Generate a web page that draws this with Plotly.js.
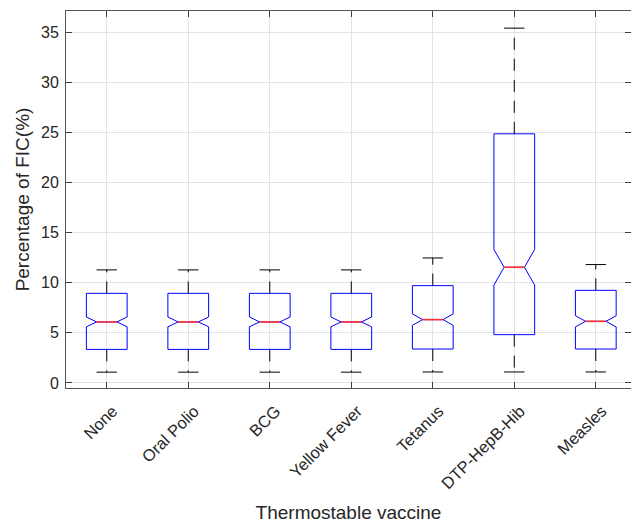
<!DOCTYPE html>
<html>
<head>
<meta charset="utf-8">
<script src="https://cdn.plot.ly/plotly-3.0.1.min.js"></script>
<style>html,body{margin:0;padding:0;background:#fff;}#chart{width:631px;height:523px;}</style>
</head>
<body>
<div id="chart"></div>
<script>
// Data
const categories = ["None", "Oral Polio", "BCG", "Yellow Fever", "Tetanus", "DTP-HepB-Hib", "Measles"];
const lowerWhisker = [1.08, 1.08, 1.08, 1.08, 1.10, 1.10, 1.10];
const q1Values     = [3.35, 3.35, 3.35, 3.35, 3.39, 4.82, 3.39];
const medianValues = [6.09, 6.09, 6.09, 6.09, 6.32, 11.54, 6.15];
const q3Values     = [8.94, 8.94, 8.94, 8.94, 9.71, 24.85, 9.24];
const upperWhisker = [11.28, 11.28, 11.28, 11.28, 12.47, 35.39, 11.81];
const notchHalfSpan = [0.49, 0.49, 0.49, 0.49, 0.57, 1.78, 0.56];

const positions = categories.map((c, i) => i + 1);
const BOX_W = 0.5;       // box width (data units)
const CAP_HALF = 0.125;  // half width of whisker caps and median line

const wx = [], wy = [];
const cx = [], cy = [];
const mx = [], my = [];
positions.forEach((p, i) => {
  wx.push(p, p, null, p, p, null);
  wy.push(q3Values[i], upperWhisker[i], null, q1Values[i], lowerWhisker[i], null);
  cx.push(p - CAP_HALF, p + CAP_HALF, null, p - CAP_HALF, p + CAP_HALF, null);
  cy.push(upperWhisker[i], upperWhisker[i], null, lowerWhisker[i], lowerWhisker[i], null);
  mx.push(p - CAP_HALF, p + CAP_HALF, null);
  my.push(medianValues[i], medianValues[i], null);
});

const traces = [
  {
    type: 'scatter', mode: 'lines', x: wx, y: wy, hoverinfo: 'skip',
    line: {color: '#000000', width: 1, dash: '12px,9px'}, showlegend: false
  },
  {
    type: 'scatter', mode: 'lines', x: cx, y: cy, hoverinfo: 'skip',
    line: {color: '#000000', width: 1}, showlegend: false
  },
  {
    type: 'box', x: positions,
    q1: q1Values, median: medianValues, q3: q3Values,
    lowerfence: q1Values, upperfence: q3Values,
    notchspan: notchHalfSpan, notched: true, notchwidth: 0.25,
    width: BOX_W, whiskerwidth: 0, boxpoints: false,
    line: {color: '#0000ff', width: 1}, fillcolor: 'rgba(0,0,0,0)',
    showlegend: false
  },
  {
    type: 'scatter', mode: 'lines', x: mx, y: my, hoverinfo: 'skip',
    line: {color: '#ff3030', width: 1.6}, showlegend: false
  }
];

const fontFam = 'Liberation Sans, Arial, Helvetica, sans-serif';
const layout = {
  width: 631, height: 523,
  margin: {l: 66, r: 0, t: 11, b: 135},
  paper_bgcolor: '#ffffff', plot_bgcolor: '#ffffff',
  font: {family: fontFam, color: '#262626', size: 16},
  showlegend: false,
  xaxis: {
    range: [0.5, 7.432], tickmode: 'array', tickvals: positions, ticktext: categories,
    tickangle: -45, ticks: 'inside', ticklen: 6, tickcolor: '#404040',
    ticklabelshift: 6, ticklabelstandoff: 6,
    showline: true, linecolor: '#555555', linewidth: 1, mirror: 'ticks',
    showgrid: true, gridcolor: '#e3e3e3', gridwidth: 1, zeroline: false,
    tickfont: {size: 16.5, color: '#262626'},
    title: {text: 'Thermostable vaccine', font: {size: 19, color: '#262626'}, standoff: 16}
  },
  yaxis: {
    range: [-0.5, 37.1], tickmode: 'linear', tick0: 0, dtick: 5,
    ticks: 'inside', ticklen: 6, tickcolor: '#404040',
    ticklabelstandoff: 3,
    showline: true, linecolor: '#555555', linewidth: 1, mirror: 'ticks',
    showgrid: true, gridcolor: '#e3e3e3', gridwidth: 1, zeroline: false,
    tickfont: {size: 16, color: '#262626'},
    title: {text: 'Percentage of FIC(%)', font: {size: 19, color: '#262626'}, standoff: 6}
  }
};

Plotly.newPlot('chart', traces, layout, {displayModeBar: false, staticPlot: true});
</script>
</body>
</html>
